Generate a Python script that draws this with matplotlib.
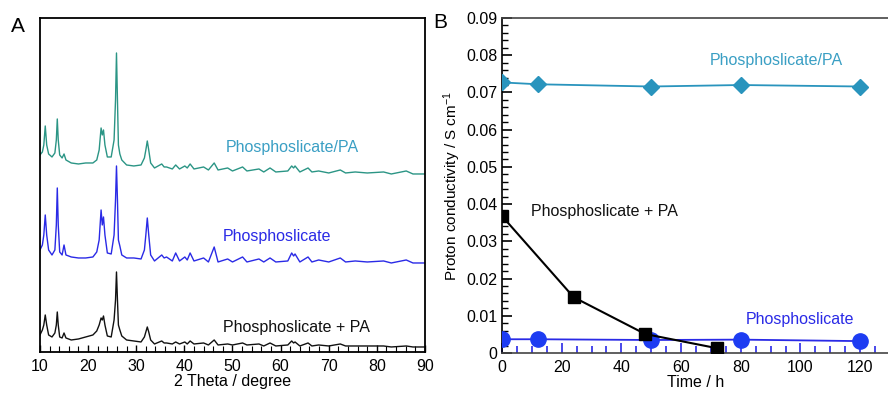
import matplotlib
matplotlib.use("Agg")
import matplotlib.pyplot as plt
from matplotlib.ticker import MultipleLocator

plt.rcParams['font.family'] = ['Liberation Sans', 'DejaVu Sans']
plt.rcParams['mathtext.fontset'] = 'custom'
plt.rcParams['mathtext.rm'] = 'Liberation Sans'
plt.rcParams['mathtext.default'] = 'regular'

# ---- panel A: XRD patterns (intensity in arbitrary units, already offset) ----
two_theta = [10.0, 10.5, 10.8, 11.1, 11.4, 11.8, 12.5, 13.1, 13.4, 13.6,
             13.8, 14.1, 14.6, 15.0, 15.4, 16.5, 18.0, 19.5, 21.0, 21.8,
             22.3, 22.7, 22.95, 23.2, 23.5, 24.0, 24.8, 25.4, 25.7, 25.9,
             26.1, 26.3, 26.6, 27.0, 28.0, 29.5, 31.0, 31.7, 32.0, 32.3,
             32.6, 33.0, 33.8, 35.3, 35.8, 36.3, 37.5, 38.2, 39.0, 40.1,
             40.6, 41.2, 42.0, 44.0, 45.0, 46.2, 47.0, 49.0, 50.0, 52.1,
             53.0, 55.5, 56.5, 57.8, 59.0, 61.5, 62.3, 62.7, 63.0, 64.0,
             65.7, 66.5, 67.9, 70.0, 72.4, 73.5, 75.5, 78.0, 81.4, 83.0,
             86.1, 87.5, 90.0]

xrd_phos_pa_impreg = [197, 200, 207, 226, 207, 198, 195, 199, 212, 233,
                      212, 197, 194, 198, 192, 189, 188, 189, 189, 192,
                      202, 224, 217, 222, 207, 195, 195, 212, 252, 299,
                      252, 207, 198, 192, 187, 186, 187, 194, 202, 211,
                      202, 189, 184, 188, 185, 185, 183, 187, 183, 186,
                      184, 188, 183, 185, 182, 189, 182, 184, 181, 185,
                      181, 183, 180, 184, 180, 181, 186, 184, 186, 180,
                      184, 180, 181, 179, 182, 179, 180, 179, 180, 178,
                      181, 178, 178]

xrd_phos = [102, 107, 117, 137, 117, 102, 97, 102, 127, 164,
            127, 100, 97, 107, 97, 95, 94, 94, 95, 100,
            112, 142, 127, 135, 117, 99, 98, 117, 152, 186,
            152, 112, 106, 97, 94, 94, 93, 102, 117, 134,
            117, 97, 91, 97, 94, 95, 91, 99, 91, 95,
            92, 99, 91, 94, 90, 105, 90, 93, 90, 95,
            90, 93, 90, 94, 90, 91, 99, 96, 98, 90,
            95, 90, 92, 90, 94, 90, 91, 90, 91, 89,
            92, 89, 89]

xrd_phos_plus_pa = [17, 22, 27, 37, 27, 17, 15, 19, 27, 40,
                    27, 15, 14, 19, 14, 12, 13, 15, 17, 21,
                    27, 34, 32, 36, 27, 16, 15, 32, 52, 80,
                    52, 27, 22, 16, 12, 11, 10, 15, 20, 25,
                    20, 12, 8, 11, 9, 9, 8, 10, 8, 10,
                    8, 11, 8, 9, 7, 12, 7, 8, 7, 9,
                    7, 8, 6, 9, 6, 7, 11, 9, 10, 6,
                    9, 6, 7, 6, 8, 6, 6, 6, 6, 5,
                    6, 5, 5]

# ---- panel B: proton conductivity vs time ----
t_phos_pa = [0, 12, 50, 80, 120]
sigma_phos_pa = [0.0727, 0.0722, 0.0716, 0.0720, 0.0716]

t_phos = [0, 12, 50, 80, 120]
sigma_phos = [0.0037, 0.0037, 0.0035, 0.0036, 0.0032]

t_plus = [0, 24, 48, 72]
sigma_plus = [0.0368, 0.0150, 0.0051, 0.0013]

teal = '#2b9585'
light_blue = '#3a9fc4'
blue = '#2a2ae6'
marker_blue = '#1d3cf2'
diamond_c = '#2994bd'

fig = plt.figure(figsize=(8.88, 4.03), dpi=100)

# panel A
axA = fig.add_axes([0.045, 0.1266, 0.4336, 0.8288])
axA.plot(two_theta, xrd_phos_pa_impreg, color=teal, lw=1.0)
axA.plot(two_theta, xrd_phos, color=blue, lw=1.0)
axA.plot(two_theta, xrd_phos_plus_pa, color='#111111', lw=1.0)
axA.set_xlim(10, 90)
axA.set_ylim(0, 334)
axA.set_yticks([])
axA.xaxis.set_major_locator(MultipleLocator(10))
axA.xaxis.set_minor_locator(MultipleLocator(2))
axA.tick_params(axis='x', which='major', direction='in', length=5, width=1,
                labelsize=11.5, pad=5)
axA.tick_params(axis='x', which='minor', direction='in', length=4, width=0.8)
axA.set_xlabel('2 Theta / degree', fontsize=11.5, labelpad=0)
for s in axA.spines.values():
    s.set_linewidth(1.3)
axA.text(48.5, 204, 'Phosphoslicate/PA', color=light_blue, fontsize=11.5,
         va='center', ha='left')
axA.text(48.0, 115, 'Phosphoslicate', color=blue, fontsize=11.5,
         va='center', ha='left')
axA.text(48.0, 24, 'Phosphoslicate + PA', color='#111111', fontsize=11.5,
         va='center', ha='left')
fig.text(0.020, 0.935, 'A', fontsize=15, ha='center', va='center')

# panel B
axB = fig.add_axes([0.5653, 0.124, 0.437, 0.8313])
axB.plot(t_phos_pa, sigma_phos_pa, color=diamond_c, lw=1.3, marker='D',
         ms=8, zorder=3)
axB.plot(t_phos, sigma_phos, color=blue, lw=1.3, marker='o',
         ms=11, mfc=marker_blue, mec=marker_blue, zorder=3)
axB.plot(t_plus, sigma_plus, color='black', lw=1.5, marker='s',
         ms=9, zorder=4)
axB.set_xlim(0, 130)
axB.set_ylim(0, 0.09)
axB.spines['right'].set_visible(False)
for s in ['left', 'top', 'bottom']:
    axB.spines[s].set_linewidth(1.2)
axB.spines['top'].set_color('#444444')
axB.spines['bottom'].set_color('#444444')
axB.xaxis.set_major_locator(MultipleLocator(20))
axB.xaxis.set_minor_locator(MultipleLocator(5))
axB.yaxis.set_minor_locator(MultipleLocator(0.002))
axB.set_yticks([0, 0.01, 0.02, 0.03, 0.04, 0.05, 0.06, 0.07, 0.08, 0.09])
axB.set_yticklabels(['0', '0.01', '0.02', '0.03', '0.04', '0.05', '0.06',
                     '0.07', '0.08', '0.09'])
axB.tick_params(axis='x', which='both', direction='in', color=blue,
                width=1.2, labelsize=11.5, pad=5)
axB.tick_params(axis='x', which='major', length=7)
axB.tick_params(axis='x', which='minor', length=5)
axB.tick_params(axis='y', which='major', direction='in', length=7, width=1.2,
                labelsize=11.5)
axB.tick_params(axis='y', which='minor', direction='in', length=4, width=1)
axB.set_xlabel('Time / h', fontsize=11.5, labelpad=0)
axB.set_ylabel('Proton conductivity / S cm$^{-1}$', fontsize=11, labelpad=2)
axB.text(69.7, 0.0787, 'Phosphoslicate/PA', color=light_blue, fontsize=11.5,
         va='center', ha='left')
axB.text(9.7, 0.0379, 'Phosphoslicate + PA', color='#111111', fontsize=11.5,
         va='center', ha='left')
axB.text(81.8, 0.0089, 'Phosphoslicate', color=blue, fontsize=11.5,
         va='center', ha='left')
fig.text(0.496, 0.945, 'B', fontsize=15, ha='center', va='center')

fig.savefig('out.png', dpi=100)
